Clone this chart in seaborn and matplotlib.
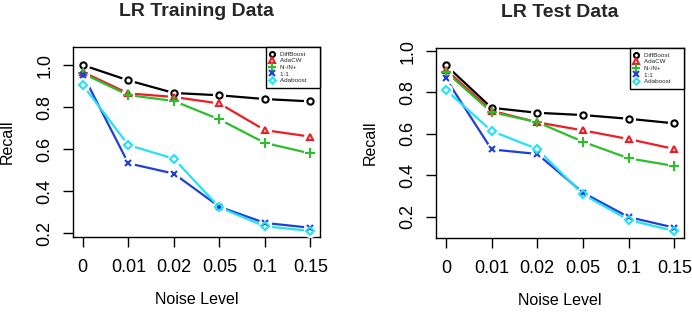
import numpy as np
import pandas as pd
import matplotlib
matplotlib.use("Agg")
import matplotlib.pyplot as plt
import seaborn as sns

noise_levels = ["0", "0.01", "0.02", "0.05", "0.1", "0.15"]
methods = ["DiffBoost", "AdaCW", "N-/N+", "1:1", "Adaboost"]

# recall values
train_diffboost = [1.00, 0.927, 0.867, 0.856, 0.838, 0.827]
train_adacw = [0.967, 0.865, 0.848, 0.817, 0.690, 0.659]
train_nn = [0.960, 0.857, 0.829, 0.741, 0.629, 0.579]
train_11 = [0.955, 0.532, 0.483, 0.325, 0.248, 0.225]
train_adaboost = [0.905, 0.619, 0.554, 0.322, 0.232, 0.210]

test_diffboost = [0.932, 0.726, 0.702, 0.691, 0.673, 0.651]
test_adacw = [0.911, 0.712, 0.656, 0.617, 0.575, 0.527]
test_nn = [0.900, 0.705, 0.657, 0.562, 0.482, 0.445]
test_11 = [0.868, 0.525, 0.503, 0.316, 0.198, 0.147]
test_adaboost = [0.813, 0.614, 0.527, 0.308, 0.184, 0.131]

colors = ["#000000", "#EE1C25", "#2DBE2D", "#1F3FDA", "#22E3F3"]
markers = ["o", "^", "+", "x", "D"]
msizes = [4.5, 4.8, 6.5, 5.0, 4.0]


def long_df(series):
    rows = []
    for m, vals in zip(methods, series):
        for i, v in enumerate(vals):
            rows.append({"method": m, "pos": i, "recall": v})
    return pd.DataFrame(rows)


train = long_df([train_diffboost, train_adacw, train_nn, train_11, train_adaboost])
test = long_df([test_diffboost, test_adacw, test_nn, test_11, test_adaboost])

sns.set_theme(style="ticks")
plt.rcParams["font.family"] = ["Liberation Sans", "DejaVu Sans"]

fig = plt.figure(figsize=(6.92, 3.13), dpi=100)
W, H = 692, 313
ax1 = fig.add_axes([73 / W, (H - 237) / H, 247 / W, 190 / H])
ax2 = fig.add_axes([436 / W, (H - 238) / H, 248 / W, 190 / H])


def draw(ax, df, title, ylim, yticks):
    sns.lineplot(data=df, x="pos", y="recall", hue="method", hue_order=methods,
                 palette=colors, lw=1.6, legend=False, ax=ax, zorder=2)
    # white halo around points, like R type="b"
    for m in methods:
        d = df[df.method == m]
        ax.plot(d.pos, d.recall, ls="none", marker="o", ms=9.5, mfc="white",
                mec="none", zorder=3)
    for m, c, mk, s in zip(methods, colors, markers, msizes):
        d = df[df.method == m]
        ax.plot(d.pos, d.recall, ls="none", marker=mk, ms=s, mfc="none",
                mec=c, mew=1.5, zorder=4, label=m + "     ")
    ax.set_xlim(-0.215, 5.21)
    ax.set_ylim(*ylim)
    ax.set_xticks(range(len(noise_levels)))
    ax.set_xticklabels(noise_levels)
    ax.set_yticks(yticks)
    ax.set_yticklabels([f"{t:.1f}" for t in yticks], rotation=90, va="center")
    ax.tick_params(axis="both", length=7, width=1, color="black",
                   labelsize=13, labelcolor="black")
    ax.tick_params(axis="x", pad=9)
    ax.tick_params(axis="y", pad=7)
    for s in ax.spines.values():
        s.set_color("black")
        s.set_linewidth(1)
    ax.set_title(title, fontsize=14, fontweight="bold", pad=0, y=1.163)
    ax.set_xlabel("Noise Level", fontsize=11.5, color="black")
    ax.set_ylabel("Recall", fontsize=11.5, color="black")
    ax.xaxis.set_label_coords(0.5, -0.29)
    ax.yaxis.set_label_coords(-0.235, 0.5)
    leg = ax.legend(loc="upper right", fontsize=4.5, frameon=True, fancybox=False,
                    borderaxespad=0, handlelength=0.65, handletextpad=1.0,
                    borderpad=0.7, labelspacing=0.2, markerscale=0.8)
    leg.get_frame().set_edgecolor("black")
    leg.get_frame().set_linewidth(1)
    leg.get_frame().set_alpha(1)


draw(ax1, train, "LR Training Data", (0.181, 1.086), [0.2, 0.4, 0.6, 0.8, 1.0])
draw(ax2, test, "LR Test Data", (0.097, 1.015), [0.2, 0.4, 0.6, 0.8, 1.0])

fig.savefig("out.png", dpi=100)
